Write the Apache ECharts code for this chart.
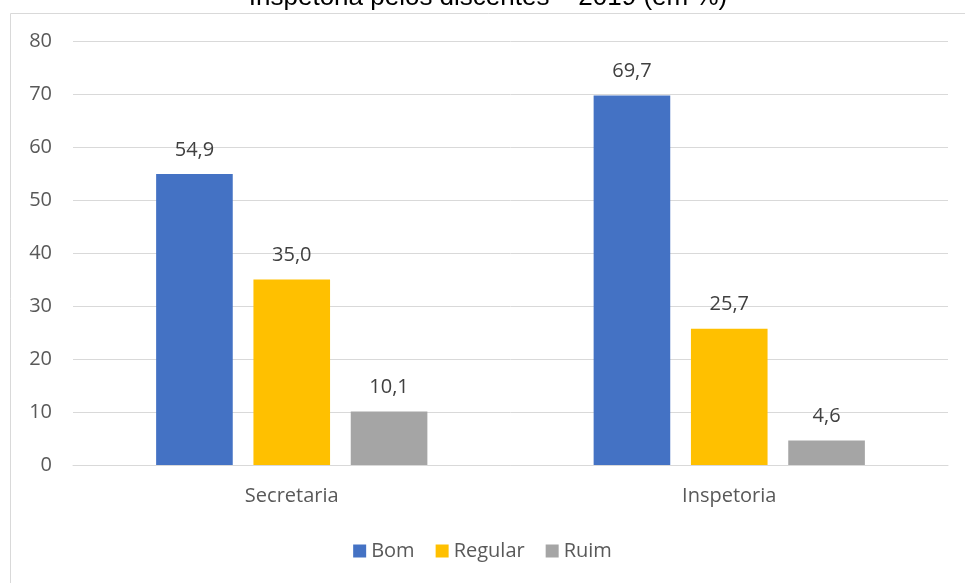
<!DOCTYPE html>
<html><head><meta charset="utf-8">
<script src="https://cdn.jsdelivr.net/npm/echarts@6/dist/echarts.min.js"></script>
<style>html,body{margin:0;padding:0;background:#fff}#c{width:965px;height:583px}</style>
</head><body><div id="c"></div>
<script>
const categories = ['Secretaria', 'Inspetoria'];
const bom = [54.9, 69.7];
const regular = [35.0, 25.7];
const ruim = [10.1, 4.6];
const yTicks = [0, 80, 10];
const titleText = 'Inspetoria pelos discentes – 2019 (em %)';

const chart = echarts.init(document.getElementById('c'));
const font = "'Open Sans', 'Noto Sans', sans-serif";
const lbl = {show: true, position: 'top', distance: 14, color: '#404040', fontSize: 20, fontFamily: font,
  formatter: p => p.value.toFixed(1).replace('.', ',')};
function s(name, data, color) {
  return {name, type: 'bar', data, barGap: '27%', barCategoryGap: '38%', itemStyle: {color}, label: lbl};
}
chart.setOption({
  animation: false,
  graphic: [
    {type: 'rect', shape: {x: 10.5, y: 13.5, width: 1000, height: 600}, style: {fill: 'none', stroke: '#d9d9d9', lineWidth: 1}, z: -1},
    {type: 'text', x: 488, y: -2, style: {text: titleText, align: 'center', verticalAlign: 'middle',
      font: "normal 26px 'Liberation Sans', Arial, sans-serif", fill: '#000'}}
  ],
  grid: {left: 73, right: 17, top: 41, bottom: 118},
  legend: {bottom: 17, left: 'center', itemWidth: 13, itemHeight: 13, itemGap: 21, icon: 'rect',
    textStyle: {color: '#595959', fontSize: 20, fontFamily: font}},
  xAxis: {type: 'category', data: categories, axisTick: {show: false},
    axisLine: {lineStyle: {color: '#d9d9d9'}},
    axisLabel: {color: '#595959', fontSize: 20, fontFamily: font, margin: 21}},
  yAxis: {type: 'value', min: yTicks[0], max: yTicks[1], interval: yTicks[2],
    axisLabel: {color: '#595959', fontSize: 20, fontFamily: font, margin: 21},
    splitLine: {lineStyle: {color: '#d9d9d9'}}},
  series: [s('Bom', bom, '#4472c4'), s('Regular', regular, '#ffc000'), s('Ruim', ruim, '#a5a5a5')]
});
</script></body></html>
